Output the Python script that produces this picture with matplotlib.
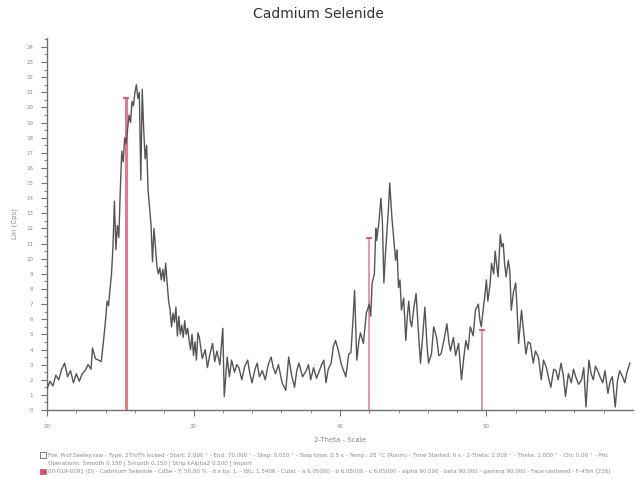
import matplotlib.pyplot as plt
import numpy as np

two_theta = [
    20.0, 20.2, 20.4, 20.6, 20.8, 21.0, 21.2, 21.4, 21.6, 21.8, 22.0, 22.2, 22.4, 22.6, 22.8,
    23.0, 23.1, 23.3, 23.5, 23.7, 23.9, 24.0, 24.1, 24.2, 24.3, 24.4, 24.5, 24.6, 24.7, 24.8,
    24.9, 25.0, 25.1, 25.2, 25.3, 25.4, 25.5, 25.6, 25.7, 25.8, 25.9, 26.0, 26.1, 26.2, 26.3,
    26.4, 26.5, 26.6, 26.7, 26.8, 26.9, 27.0, 27.1, 27.2, 27.3, 27.4, 27.5, 27.6, 27.7, 27.8,
    27.9, 28.0, 28.1, 28.2, 28.3, 28.4, 28.5, 28.6, 28.7, 28.8, 28.9, 29.0, 29.1, 29.2, 29.3,
    29.4, 29.5, 29.6, 29.7, 29.8, 29.9, 30.0, 30.1, 30.2, 30.3, 30.4, 30.6, 30.8, 30.95, 31.1,
    31.3, 31.45, 31.6, 31.8, 32.0, 32.1, 32.3, 32.45, 32.6, 32.8, 32.95, 33.1, 33.3, 33.5, 33.7,
    33.85, 34.0, 34.2, 34.35, 34.5, 34.7, 34.9, 35.1, 35.3, 35.45, 35.6, 35.8, 36.05, 36.3, 36.5,
    36.7, 36.9, 37.05, 37.2, 37.45, 37.7, 37.85, 38.0, 38.2, 38.4, 38.6, 38.75, 38.9, 39.05, 39.2,
    39.4, 39.55, 39.7, 39.9, 40.1, 40.4, 40.6, 40.75, 40.9, 41.0, 41.15, 41.3, 41.4, 41.6, 41.8,
    42.0, 42.1, 42.2, 42.35, 42.45, 42.5, 42.65, 42.8, 42.9, 43.0, 43.1, 43.2, 43.3, 43.4, 43.55,
    43.7, 43.8, 43.9, 44.0, 44.1, 44.2, 44.35, 44.5, 44.6, 44.7, 44.8, 44.9, 45.05, 45.2, 45.35,
    45.5, 45.65, 45.8, 45.95, 46.05, 46.25, 46.4, 46.6, 46.75, 46.9, 47.1, 47.3, 47.45, 47.55, 47.75,
    47.9, 48.1, 48.3, 48.45, 48.6, 48.75, 48.9, 49.1, 49.25, 49.45, 49.55, 49.65, 49.8, 49.9, 50.0,
    50.1, 50.25, 50.35, 50.5, 50.6, 50.7, 50.8, 50.95, 51.05, 51.15, 51.25, 51.35, 51.5, 51.6, 51.7,
    51.85, 52.0, 52.1, 52.2, 52.4, 52.55, 52.7, 52.85, 53.0, 53.2, 53.35, 53.55, 53.75, 53.9, 54.1,
    54.25, 54.4, 54.6, 54.75, 54.9, 55.1, 55.25, 55.4, 55.6, 55.8, 55.95, 56.1, 56.3, 56.5, 56.65,
    56.8, 57.0, 57.15, 57.3, 57.45, 57.6, 57.8, 57.95, 58.1, 58.3, 58.45, 58.6, 58.8, 58.95, 59.1,
    59.3, 59.45, 59.6, 59.8,
]
intensity = [
    1.4, 1.9, 1.6, 2.3, 2.0, 2.7, 3.1, 2.2, 2.6, 1.8, 2.4, 1.9, 2.4, 2.6, 3.0,
    2.7, 4.1, 3.4, 3.3, 3.2, 5.0, 6.0, 7.2, 6.9, 8.0, 9.0, 10.8, 13.8, 10.6, 12.2,
    11.4, 14.5, 17.1, 16.4, 18.0, 17.6, 18.6, 19.5, 19.0, 20.4, 20.1, 21.0, 21.5, 20.6, 21.0,
    15.2, 21.2, 18.5, 16.6, 17.5, 14.5, 13.4, 12.2, 9.8, 12.0, 10.8, 9.5, 9.0, 9.4, 8.6,
    9.3, 8.5, 9.7, 8.4, 7.2, 6.6, 5.5, 6.4, 5.8, 6.8, 4.9, 6.2, 5.0, 5.6, 4.8,
    5.9, 5.0, 5.4, 4.6, 4.0, 5.0, 3.6, 4.5, 3.3, 5.1, 4.8, 3.4, 4.0, 2.8, 3.6,
    4.4, 3.2, 3.9, 3.0, 5.4, 0.9, 3.5, 2.2, 3.3, 2.5, 3.0, 2.8, 2.0, 2.9, 3.3,
    2.4, 1.8, 2.7, 3.1, 2.2, 2.6, 2.0, 3.0, 3.5, 2.8, 2.4, 3.0, 1.8, 1.3, 3.5,
    2.3, 1.5, 2.6, 3.1, 2.2, 2.6, 3.0, 2.0, 2.8, 2.1, 2.6, 3.0, 3.3, 1.8, 2.7,
    3.1, 4.2, 4.6, 3.9, 3.0, 2.2, 3.7, 3.8, 6.1, 7.9, 3.3, 4.6, 5.1, 4.4, 6.4,
    7.0, 6.2, 8.4, 9.0, 12.0, 11.2, 12.3, 14.0, 12.4, 8.4, 10.2, 11.6, 13.1, 15.0, 12.7,
    11.0, 9.9, 10.6, 8.1, 8.6, 6.6, 7.4, 4.6, 6.2, 7.2, 5.9, 5.5, 6.8, 7.7, 5.3,
    3.1, 4.9, 6.8, 4.2, 3.1, 3.7, 5.5, 4.8, 3.6, 3.7, 4.6, 5.7, 4.4, 3.9, 4.8,
    3.6, 4.4, 2.0, 3.4, 4.6, 4.0, 5.5, 4.9, 6.6, 7.0, 6.0, 5.5, 6.8, 7.6, 8.6,
    7.2, 8.3, 9.7, 9.0, 10.5, 9.6, 8.8, 11.6, 10.8, 11.0, 9.6, 8.8, 9.9, 9.2, 6.6,
    7.8, 8.4, 6.6, 4.4, 6.6, 5.1, 3.7, 4.5, 4.4, 3.1, 3.9, 3.5, 2.0, 3.3, 2.8,
    2.1, 1.5, 2.7, 2.6, 2.0, 3.1, 2.3, 0.9, 2.4, 1.8, 2.7, 2.2, 1.7, 2.0, 2.8,
    0.2, 3.3, 2.4, 2.0, 2.9, 2.6, 2.1, 1.8, 2.6, 1.1, 1.9, 2.2, 0.2, 1.9, 2.6,
    2.2, 1.8, 2.5, 3.1,
]

# Reference card 00-019-0191 CdSe stick pattern
stick_pos = [25.4, 42.0, 49.7]
stick_int = [20.6, 11.4, 5.3]

y_ticks = list(range(0, 25))
x_ticks = [20, 30, 40, 50]

fig = plt.figure(figsize=(6.36, 4.79), dpi=100)
ax = fig.add_axes([0.074, 0.144, 0.921, 0.777])

axis_gray = "#707070"
text_gray = "#8a8a8a"

ax.plot(two_theta, intensity, color="#555555", linewidth=1.0, zorder=3)

stick_color = "#e27a88"
ax.vlines(stick_pos, 0, stick_int, color=stick_color, linewidth=[2.2, 1.1, 1.1], zorder=2)
ax.plot(stick_pos, stick_int, linestyle="none", marker="_", markersize=5,
        color="#c84a5a", markeredgewidth=1.2, zorder=4)

ax.set_xlim(20, 60)
ax.set_ylim(0, 24.6)

ax.set_xticks(x_ticks)
ax.set_xticklabels([str(t) for t in x_ticks])
ax.set_xticks(np.arange(20, 60, 2), minor=True)
ax.set_yticks(y_ticks)
ax.set_yticklabels([str(t) for t in y_ticks])
ax.set_yticks(np.arange(0, 24.6, 0.5), minor=True)

ax.tick_params(axis="both", which="major", direction="out", length=4, width=0.8,
               color=axis_gray, labelsize=4, labelcolor=text_gray, pad=6)
ax.tick_params(axis="both", which="minor", direction="out", length=2.5, width=0.6,
               color=axis_gray)

for side in ["top", "right"]:
    ax.spines[side].set_visible(False)
for side in ["left", "bottom"]:
    ax.spines[side].set_color(axis_gray)
    ax.spines[side].set_linewidth(1.0)

ax.set_ylabel("Lin (Cps)", fontsize=5, color=text_gray, labelpad=6)
ax.set_xlabel("2-Theta - Scale", fontsize=5, color=text_gray, labelpad=6)

fig.text(0.5, 1 - 14 / 479, "Cadmium Selenide", ha="center", va="center",
         fontsize=10, color="#333333")

# Scan and card description lines below the axis
info_1 = ("File: Prof.Seeley.raw - Type: 2Th/Th locked - Start: 2.000 \u00b0 - End: 70.000 \u00b0 - "
          "Step: 0.050 \u00b0 - Step time: 0.5 s - Temp.: 25 \u00b0C (Room) - Time Started: 0 s - "
          "2-Theta: 2.000 \u00b0 - Theta: 1.000 \u00b0 - Chi: 0.00 \u00b0 - Phi:")
info_2 = "Operations: Smooth 0.150 | Smooth 0.150 | Strip kAlpha2 0.500 | Import"
info_3 = ("00-019-0191 (D) - Cadmium Selenide - CdSe - Y: 50.00 % - d x by: 1. - WL: 1.5406 - "
          "Cubic - a 6.05000 - b 6.05000 - c 6.05000 - alpha 90.000 - beta 90.000 - gamma 90.000 - "
          "Face-centered - F-43m (216)")

fig.patches.append(plt.Rectangle((40 / 636, 1 - 458 / 479), 6 / 636, 6 / 479,
                                 transform=fig.transFigure, facecolor="white",
                                 edgecolor="#666666", linewidth=0.6))
fig.patches.append(plt.Rectangle((40 / 636, 1 - 474 / 479), 6 / 636, 5 / 479,
                                 transform=fig.transFigure, facecolor="#e05060",
                                 edgecolor="#c03040", linewidth=0.4))
fig.text(48 / 636, 1 - 455 / 479, info_1, fontsize=4.1, color=text_gray, va="center")
fig.text(48 / 636, 1 - 463 / 479, info_2, fontsize=4.1, color=text_gray, va="center")
fig.text(48 / 636, 1 - 471.5 / 479, info_3, fontsize=4.1, color=text_gray, va="center")

fig.savefig("out.png", dpi=100)
